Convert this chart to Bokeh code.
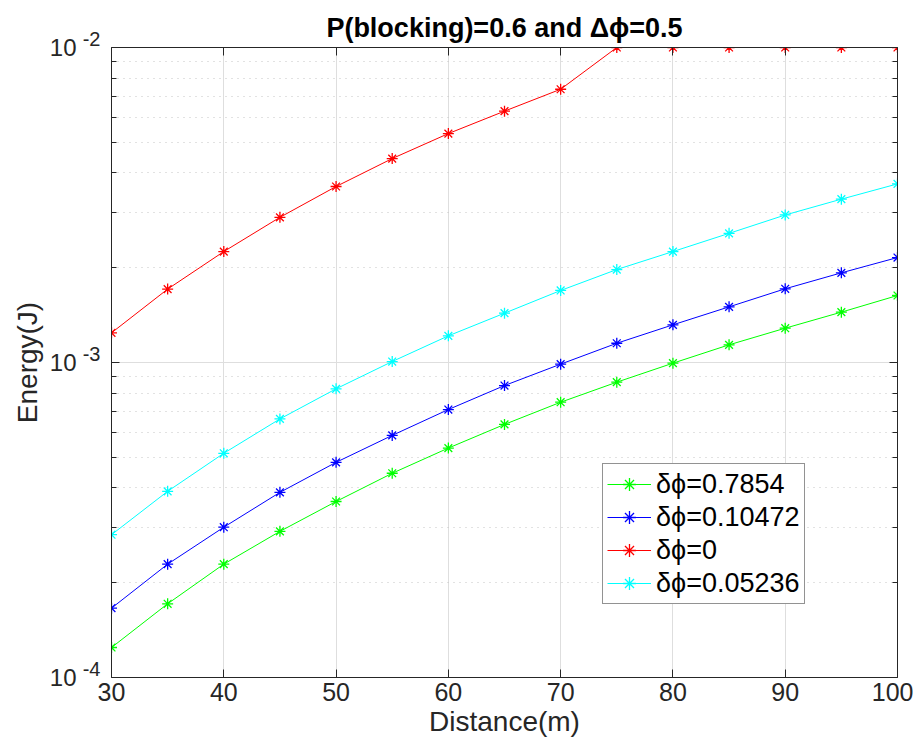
from bokeh.plotting import figure
from bokeh.models import (LogAxis, LinearAxis, FixedTicker,
                          CustomJSTickFormatter, Legend, LegendItem)
from bokeh.embed import file_html
from bokeh.resources import INLINE

# ---- data -------------------------------------------------------------
distance = [30, 35, 40, 45, 50, 55, 60, 65, 70, 75, 80, 85, 90, 95, 100]

energy_d0_7854 = [1.245e-4, 1.714e-4, 2.29e-4, 2.91e-4, 3.62e-4, 4.45e-4, 5.35e-4,
                  6.36e-4, 7.48e-4, 8.66e-4, 9.95e-4, 1.138e-3, 1.285e-3, 1.445e-3, 1.632e-3]
energy_d0_10472 = [1.66e-4, 2.29e-4, 3.00e-4, 3.87e-4, 4.82e-4, 5.87e-4, 7.09e-4,
                   8.45e-4, 9.88e-4, 1.151e-3, 1.317e-3, 1.502e-3, 1.714e-3, 1.926e-3, 2.154e-3]
energy_d0 = [1.242e-3, 1.71e-3, 2.25e-3, 2.89e-3, 3.62e-3, 4.44e-3, 5.33e-3,
             6.28e-3, 7.37e-3, 1.0e-2, 1.0e-2, 1.0e-2, 1.0e-2, 1.0e-2, 1.0e-2]
energy_d0_05236 = [2.84e-4, 3.90e-4, 5.15e-4, 6.62e-4, 8.25e-4, 1.007e-3, 1.215e-3,
                   1.434e-3, 1.693e-3, 1.973e-3, 2.25e-3, 2.57e-3, 2.94e-3, 3.30e-3, 3.69e-3]

series_labels = ["δϕ=0.7854", "δϕ=0.10472", "δϕ=0", "δϕ=0.05236"]
series_values = [energy_d0_7854, energy_d0_10472, energy_d0, energy_d0_05236]
series_colors = ["#00ff00", "#0000ff", "#ff0000", "#00ffff"]

x_ticks = [30, 40, 50, 60, 70, 80, 90, 100]
y_decades = [1e-4, 1e-3, 1e-2]
y_tick_base = "10"
y_tick_exponents = ["-4", "-3", "-2"]
y_minor_mantissas = [2, 3, 4, 5, 6, 7, 8, 9]

title_text = "P(blocking)=0.6 and Δϕ=0.5"
x_label = "Distance(m)"
y_label = "Energy(J)"

# ---- figure -----------------------------------------------------------
FONT = "Liberation Sans"
AX = "#262626"

p = figure(width=913, height=744, y_axis_type="log",
           x_range=(x_ticks[0], x_ticks[-1]), y_range=(y_decades[0], y_decades[-1]),
           output_backend="svg", toolbar_location=None,
           min_border_left=111, min_border_right=16,
           min_border_top=47, min_border_bottom=67)

p.title.text = title_text
p.title.align = "center"
p.title.text_font = FONT
p.title.text_font_size = "27px"
p.title.text_font_style = "bold"
p.title.text_color = "black"
p.title.standoff = 9
p.outline_line_color = None

items = []
for lab, vals, col in zip(series_labels, series_values, series_colors):
    r1 = p.line(distance, vals, line_color=col, line_width=1)
    r2 = p.scatter(distance, vals, marker="asterisk", size=11,
                   line_color=col, line_width=1.3)
    items.append(LegendItem(label=lab, renderers=[r1, r2]))

y_minor = [d * m for d in y_decades[:-1] for m in y_minor_mantissas]
xt = FixedTicker(ticks=x_ticks, minor_ticks=[])
yt = FixedTicker(ticks=y_decades, minor_ticks=y_minor)

# exponent printed on the upper line of a two-line label -> raised (superscript)
exp_fmt = CustomJSTickFormatter(args=dict(decs=y_decades, exps=y_tick_exponents), code="""
    for (let i = 0; i < decs.length; i++) {
        if (Math.abs(Math.log10(tick) - Math.log10(decs[i])) < 1e-6) return exps[i] + "\\n\\u00a0";
    }
    return "";
""")
base_fmt = CustomJSTickFormatter(args=dict(base=y_tick_base), code="return base;")
blank = CustomJSTickFormatter(code="return '';")

bottom_axis = p.below[0]
left_axis = p.left[0]          # inner: axis line, ticks, exponents

bottom_axis.ticker = xt
left_axis.ticker = yt
left_axis.formatter = exp_fmt
bottom_axis.axis_label = x_label

base_axis = LogAxis(ticker=yt, formatter=base_fmt, axis_label=y_label)  # outer: "10"
top_axis = LinearAxis(ticker=xt, formatter=blank)
right_axis = LogAxis(ticker=yt, formatter=blank)
p.add_layout(base_axis, "left")
p.add_layout(top_axis, "above")
p.add_layout(right_axis, "right")

for ax in [bottom_axis, left_axis, top_axis, right_axis, base_axis]:
    ax.axis_line_color = AX
    ax.axis_line_width = 1
    ax.major_tick_line_color = AX
    ax.minor_tick_line_color = AX
    ax.major_tick_in = 8
    ax.major_tick_out = 0
    ax.minor_tick_in = 5
    ax.minor_tick_out = 0
    ax.major_label_text_font = FONT
    ax.major_label_text_font_size = "25px"
    ax.major_label_text_color = AX
    ax.axis_label_text_font = FONT
    ax.axis_label_text_font_size = "28px"
    ax.axis_label_text_font_style = "normal"
    ax.axis_label_text_color = AX
    ax.axis_label_standoff = 2
    ax.major_label_standoff = 5

left_axis.major_label_text_font_size = "20px"
left_axis.major_label_text_line_height = 0.75
left_axis.major_label_standoff = 11

base_axis.axis_line_color = None
base_axis.major_tick_line_color = None
base_axis.minor_tick_line_color = None
base_axis.major_tick_in = 0
base_axis.minor_tick_in = 0
base_axis.major_label_text_font_size = "24px"
base_axis.major_label_standoff = 3
base_axis.axis_label_standoff = 4

for ax in [top_axis, right_axis]:
    ax.major_label_text_font_size = "1px"
    ax.major_label_text_color = None
    ax.major_label_standoff = 0

bottom_axis.minor_tick_line_color = None
top_axis.minor_tick_line_color = None

p.xgrid.grid_line_color = "#dedede"
p.ygrid.grid_line_color = "#dedede"
p.ygrid.minor_grid_line_color = "#c4c4c4"
p.ygrid.minor_grid_line_dash = "1 5"

legend = Legend(items=items, location=(491, 73))
legend.label_text_font = FONT
legend.label_text_font_size = "27px"
legend.label_text_color = "black"
legend.glyph_width = 44
legend.glyph_height = 32
legend.label_height = 32
legend.label_standoff = 5
legend.spacing = 1
legend.padding = 4
legend.margin = 0
legend.border_line_color = AX
legend.border_line_width = 1
legend.background_fill_color = "white"
legend.background_fill_alpha = 1
p.add_layout(legend)

open("out.html", "w").write(file_html(p, INLINE))
